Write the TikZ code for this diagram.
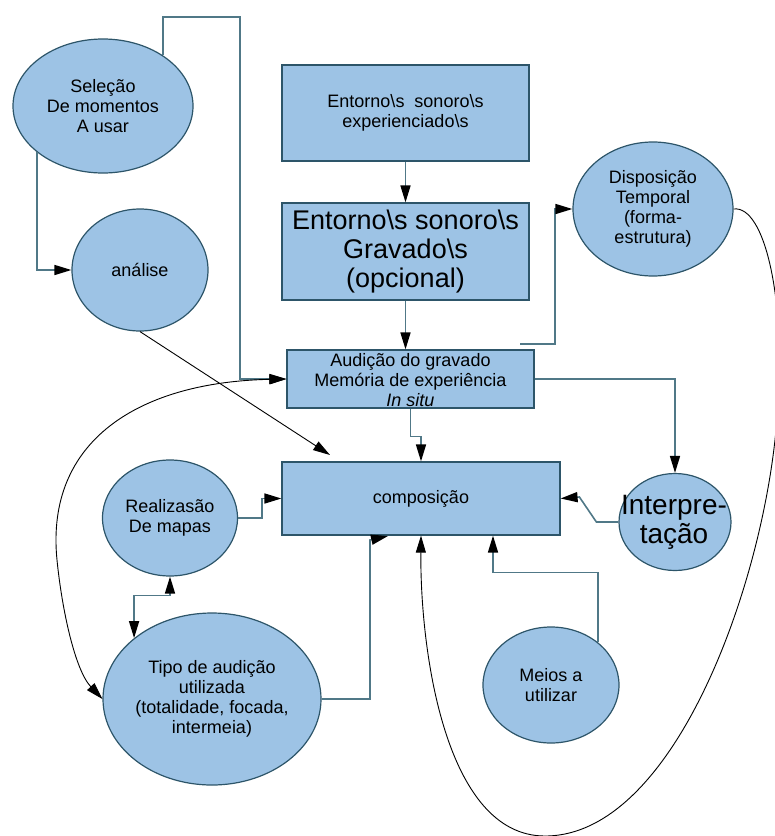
\documentclass[tikz,border=0pt]{standalone}
\usepackage{fontspec}
\setmainfont{Liberation Sans}
\usetikzlibrary{arrows.meta,shapes.geometric}
\definecolor{shapefill}{RGB}{157,195,229}
\definecolor{shapeline}{RGB}{45,85,105}
\definecolor{linkline}{RGB}{80,120,135}
\newcommand{\bsl}{\textbackslash s}

\begin{document}
\begin{tikzpicture}[x=1pt,y=-1pt,>={Triangle[length=17pt,width=10pt,color=black]},
  oval/.style={ellipse,draw=shapeline,fill=shapefill,line width=1.2pt,inner sep=0pt,align=center,font=\fontsize{18}{20}\selectfont},
  box/.style={rectangle,draw=shapeline,fill=shapefill,line width=1.2pt,inner sep=0pt,align=center,font=\fontsize{18}{20}\selectfont},
  link/.style={draw=linkline,line width=1.6pt},
  curvelink/.style={draw=black,line width=0.9pt}]
\useasboundingbox (0,0) rectangle (775,836);

\node[oval,minimum width=180pt,minimum height=134pt] (sel) at (103,106) {Seleção\\De momentos\\A usar};
\node[oval,minimum width=136pt,minimum height=122pt] (ana) at (140,270) {análise};
\node[box,minimum width=247pt,minimum height=96pt] (env) at (405.5,113) {Entorno\bsl\ \ sonoro\bsl\\experienciado\bsl};
\node[box,minimum width=247pt,minimum height=97pt,font=\fontsize{27}{29}\selectfont] (rec) at (405.5,251.5) {Entorno\bsl\ sonoro\bsl\\Gravado\bsl\\(opcional)};
\node[oval,minimum width=160pt,minimum height=134pt] (disp) at (653,209) {Disposição\\Temporal\\(forma-\\estrutura)};
\node[box,minimum width=247pt,minimum height=58pt] (aud) at (410.5,379) {};
\node[align=center,inner sep=0pt,font=\fontsize{18}{20}\selectfont] (audtxt) at (410.5,380) {Audição do gravado\\Memória de experiência\\\textit{In situ}};
\node[box,minimum width=278pt,minimum height=73pt] (comp) at (421,498.5) {composição};
\node[oval,minimum width=112pt,minimum height=97pt] (interp) at (675,522) {};
\node[align=center,inner sep=0pt,font=\fontsize{28}{29}\selectfont] (interptxt) at (674,522) {Interpre-\\tação};
\node[oval,minimum width=136pt,minimum height=116pt] (meios) at (551,685) {Meios a\\utilizar};
\node[oval,minimum width=135pt,minimum height=116pt] (real) at (170,518) {Realizasão\\De mapas};
\node[oval,minimum width=218pt,minimum height=172pt] (tipo) at (212,699) {Tipo de audição\\utilizada\\(totalidade, focada,\\intermeia)};

\coordinate (selturn) at (240,17);
\coordinate (anaend) at (330,455);
\coordinate (dispfoot) at (520,344);
\coordinate (dispturn) at (555,209);
\coordinate (tipoturn) at (370,540);
\coordinate (tipoend) at (388,536);

\draw[link,->] (sel.40) |- (selturn) |- (aud.west);
\draw[link,->] (sel.215) |- (ana.west);
\draw[curvelink,->] (ana.south) -- (anaend);
\draw[link,->] (env.south) -- (rec.north);
\draw[link,->] (rec.south) -- (rec.south |- aud.north);
\draw[link,->] (dispfoot) -| (dispturn) -- (disp.west);
\draw[link,->] (aud.east) -| (interp.north);
\draw[link,->] (aud.south) -- ++(0,28) -| (comp.north);
\draw[link,->] (interp.west) -- ++(-22,0) -- ++(-17,-25) -- (comp.east);
\draw[link,->] (real.east) -- ++(24,0) |- (comp.west);
\draw[link,<->] (real.south) -- ++(0,19) -| (tipo.142);
\draw[link,->] (tipo.east) -| (tipoturn) -- (tipoend);
\draw[link,->] (meios.42) -- ++(0,-70) -| ([xshift=72pt]comp.south);
\draw[curvelink,->] (disp.east) .. controls (765,205) and (785,300) .. (778,400) .. controls (772,560) and (680,836) .. (545,836) .. controls (445,836) and (420,650) .. (comp.south);
\draw[curvelink,<->] (aud.west) .. controls (140,382) and (45,440) .. (57,560) .. controls (62,610) and (75,670) .. (tipo.west);

\end{tikzpicture}
\end{document}
